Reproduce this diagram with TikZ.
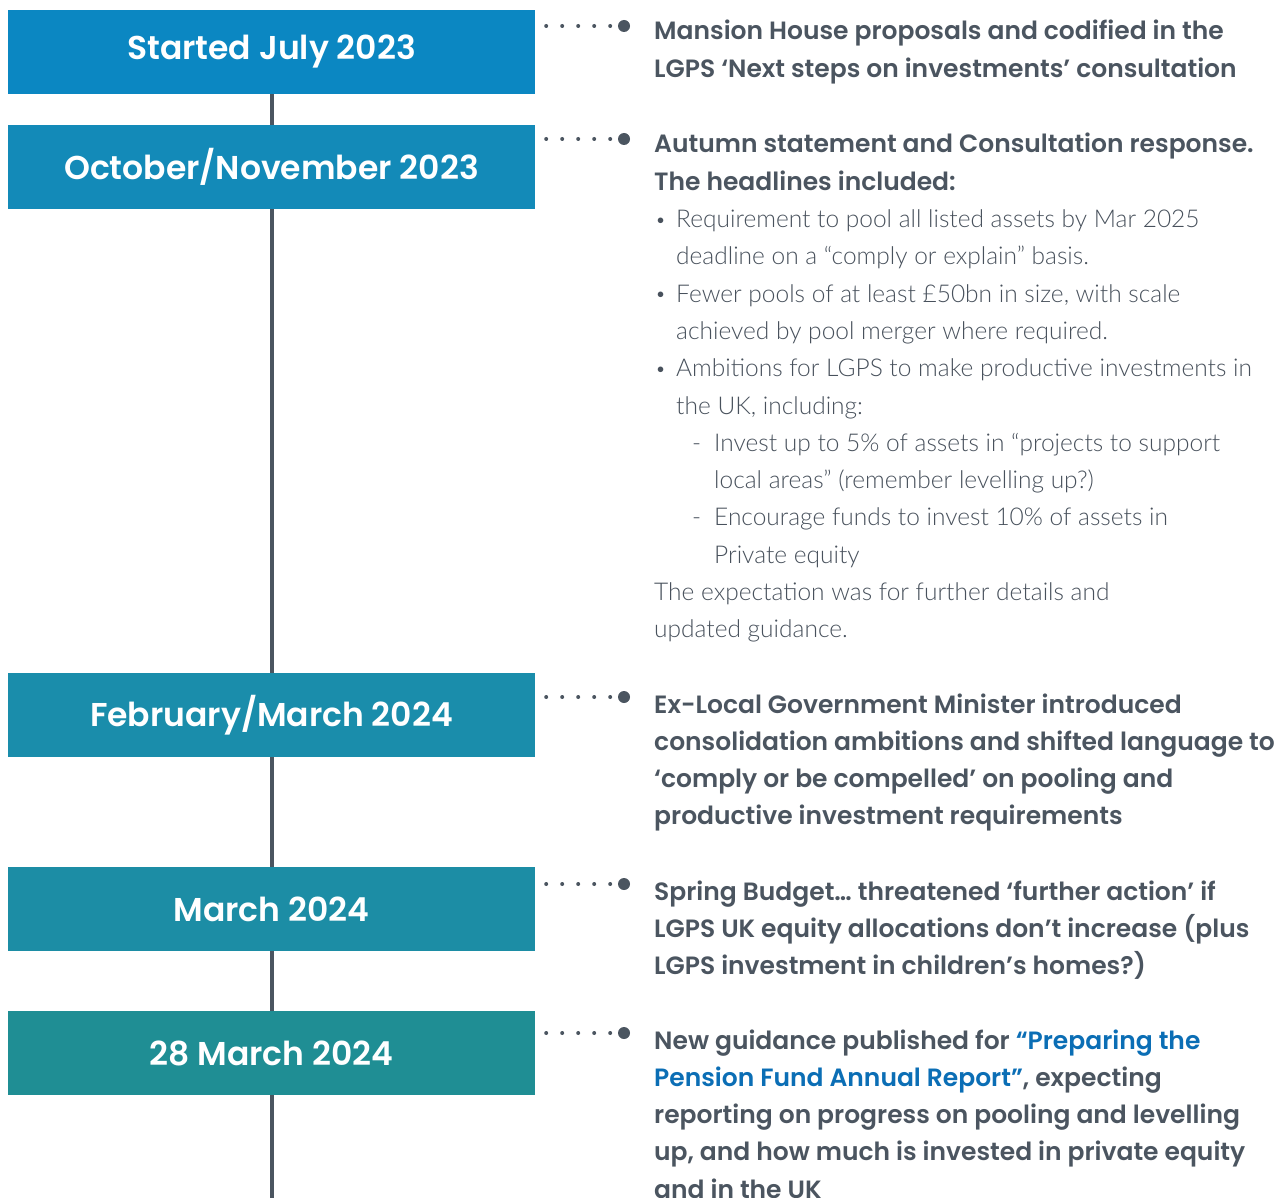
\documentclass[tikz,border=0pt]{standalone}
\usepackage{fontspec}
\setmainfont{Poppins}
\IfFontExistsTF{Poppins SemiBold}
  {\newfontfamily\strongfont{Poppins SemiBold}}
  {\newfontfamily\strongfont{Poppins}[UprightFont={* Bold}]}
\IfFontExistsTF{Lato Light}
  {\newfontfamily\lightfont{Lato Light}}
  {\newfontfamily\lightfont{Lato}}
\definecolor{ink}{HTML}{4B5560}
\definecolor{inklight}{HTML}{48515C}
\definecolor{linkblue}{HTML}{0B6EB5}
\definecolor{stepA}{HTML}{0B87C2}
\definecolor{stepB}{HTML}{138AB8}
\definecolor{stepC}{HTML}{1A8DAB}
\definecolor{stepD}{HTML}{1C8DA5}
\definecolor{stepE}{HTML}{1F8E94}

% body text: a top-aligned box whose baseline is the first line's baseline
\newcommand{\blocktext}[1]{\vtop{\hsize=640pt\parindent=0pt\parskip=0pt
  \strongfont\fontsize{25}{37.3}\selectfont #1}}
\newcommand{\lt}{\lightfont\fontsize{24.5}{37.3}\selectfont\color{inklight}}
\newcommand{\bul}{\makebox[22pt][l]{\kern1pt\raisebox{1.5pt}{\fontsize{19}{19}\selectfont\textbullet}}}
\newcommand{\dsh}{\hspace*{38pt}\makebox[22pt][l]{-}}

\begin{document}
\begin{tikzpicture}[x=1pt,y=-1pt,
  datebox/.style={fill=#1, minimum width=527pt, minimum height=84pt,
    inner sep=0pt, text=white, font=\strongfont\fontsize{33}{38}\selectfont},
  note/.style={anchor=base west, inner sep=0pt, text=ink},
  spine/.style={draw=ink, line width=4pt},
  dotline/.style={draw=ink, line width=4pt, line cap=round,
    dash pattern=on 0pt off 16pt, shorten <=11pt},
  bigdot/.style={circle, fill=ink, minimum size=12pt, inner sep=0pt}]

\useasboundingbox (0,0) rectangle (1282,1198);

% timeline date boxes
\node[datebox=stepA] (b1) at (271.5,52)   {Started July 2023};
\node[datebox=stepB] (b2) at (271.5,167)  {October/November 2023};
\node[datebox=stepC] (b3) at (271.5,715)  {February/March 2024};
\node[datebox=stepD] (b4) at (271.5,909)  {March 2024};
\node[datebox=stepE] (b5) at (271.5,1053) {28 March 2024};
\coordinate (end) at (271.5,1198);

% spine between the boxes
\draw[spine] (b1.south) -- (b2.north);
\draw[spine] (b2.south) -- (b3.north);
\draw[spine] (b3.south) -- (b4.north);
\draw[spine] (b4.south) -- (b5.north);
\draw[spine] (b5.south) -- (end);

% end dots of the dotted leaders
\node[bigdot] (d1) at (624,26)   {};
\node[bigdot] (d2) at (624,139)  {};
\node[bigdot] (d3) at (624,697)  {};
\node[bigdot] (d4) at (624,884)  {};
\node[bigdot] (d5) at (624,1033) {};

\draw[dotline] (b1.east |- d1) -- (d1.west);
\draw[dotline] (b2.east |- d2) -- (d2.west);
\draw[dotline] (b3.east |- d3) -- (d3.west);
\draw[dotline] (b4.east |- d4) -- (d4.west);
\draw[dotline] (b5.east |- d5) -- (d5.west);

% descriptions
\node[note] (t1) at (654,40) {\blocktext{%
  Mansion House proposals and codified in the\par
  LGPS ‘Next steps on investments’ consultation\par}};

\node[note] (t2) at (654,153) {\blocktext{%
  Autumn statement and Consultation response.\par
  The headlines included:\par
  {\lt\bul Requirement to pool all listed assets by Mar 2025\par}
  {\lt\hspace*{22pt}deadline on a “comply or explain” basis.\par}
  {\lt\bul Fewer pools of at least £50bn in size, with scale\par}
  {\lt\hspace*{22pt}achieved by pool merger where required.\par}
  {\lt\bul Ambitions for LGPS to make productive investments in\par}
  {\lt\hspace*{22pt}the UK, including:\par}
  {\lt\dsh Invest up to 5\% of assets in “projects to support\par}
  {\lt\hspace*{60pt}local areas” (remember levelling up?)\par}
  {\lt\dsh Encourage funds to invest 10\% of assets in\par}
  {\lt\hspace*{60pt}Private equity\par}
  {\lt The expectation was for further details and\par}
  {\lt updated guidance.\par}}};

\node[note] (t3) at (654,713) {\blocktext{%
  Ex-Local Government Minister introduced\par
  consolidation ambitions and shifted language to\par
  ‘comply or be compelled’ on pooling and\par
  productive investment requirements\par}};

\node[note] (t4) at (654,900) {\blocktext{%
  Spring Budget… threatened ‘further action’ if\par
  LGPS UK equity allocations don’t increase (plus\par
  LGPS investment in children’s homes?)\par}};

\node[note] (t5) at (654,1049) {\blocktext{%
  New guidance published for {\color{linkblue}“Preparing the}\par
  {\color{linkblue}Pension Fund Annual Report”}, expecting\par
  reporting on progress on pooling and levelling\par
  up, and how much is invested in private equity\par
  and in the UK\par}};

\end{tikzpicture}
\end{document}
